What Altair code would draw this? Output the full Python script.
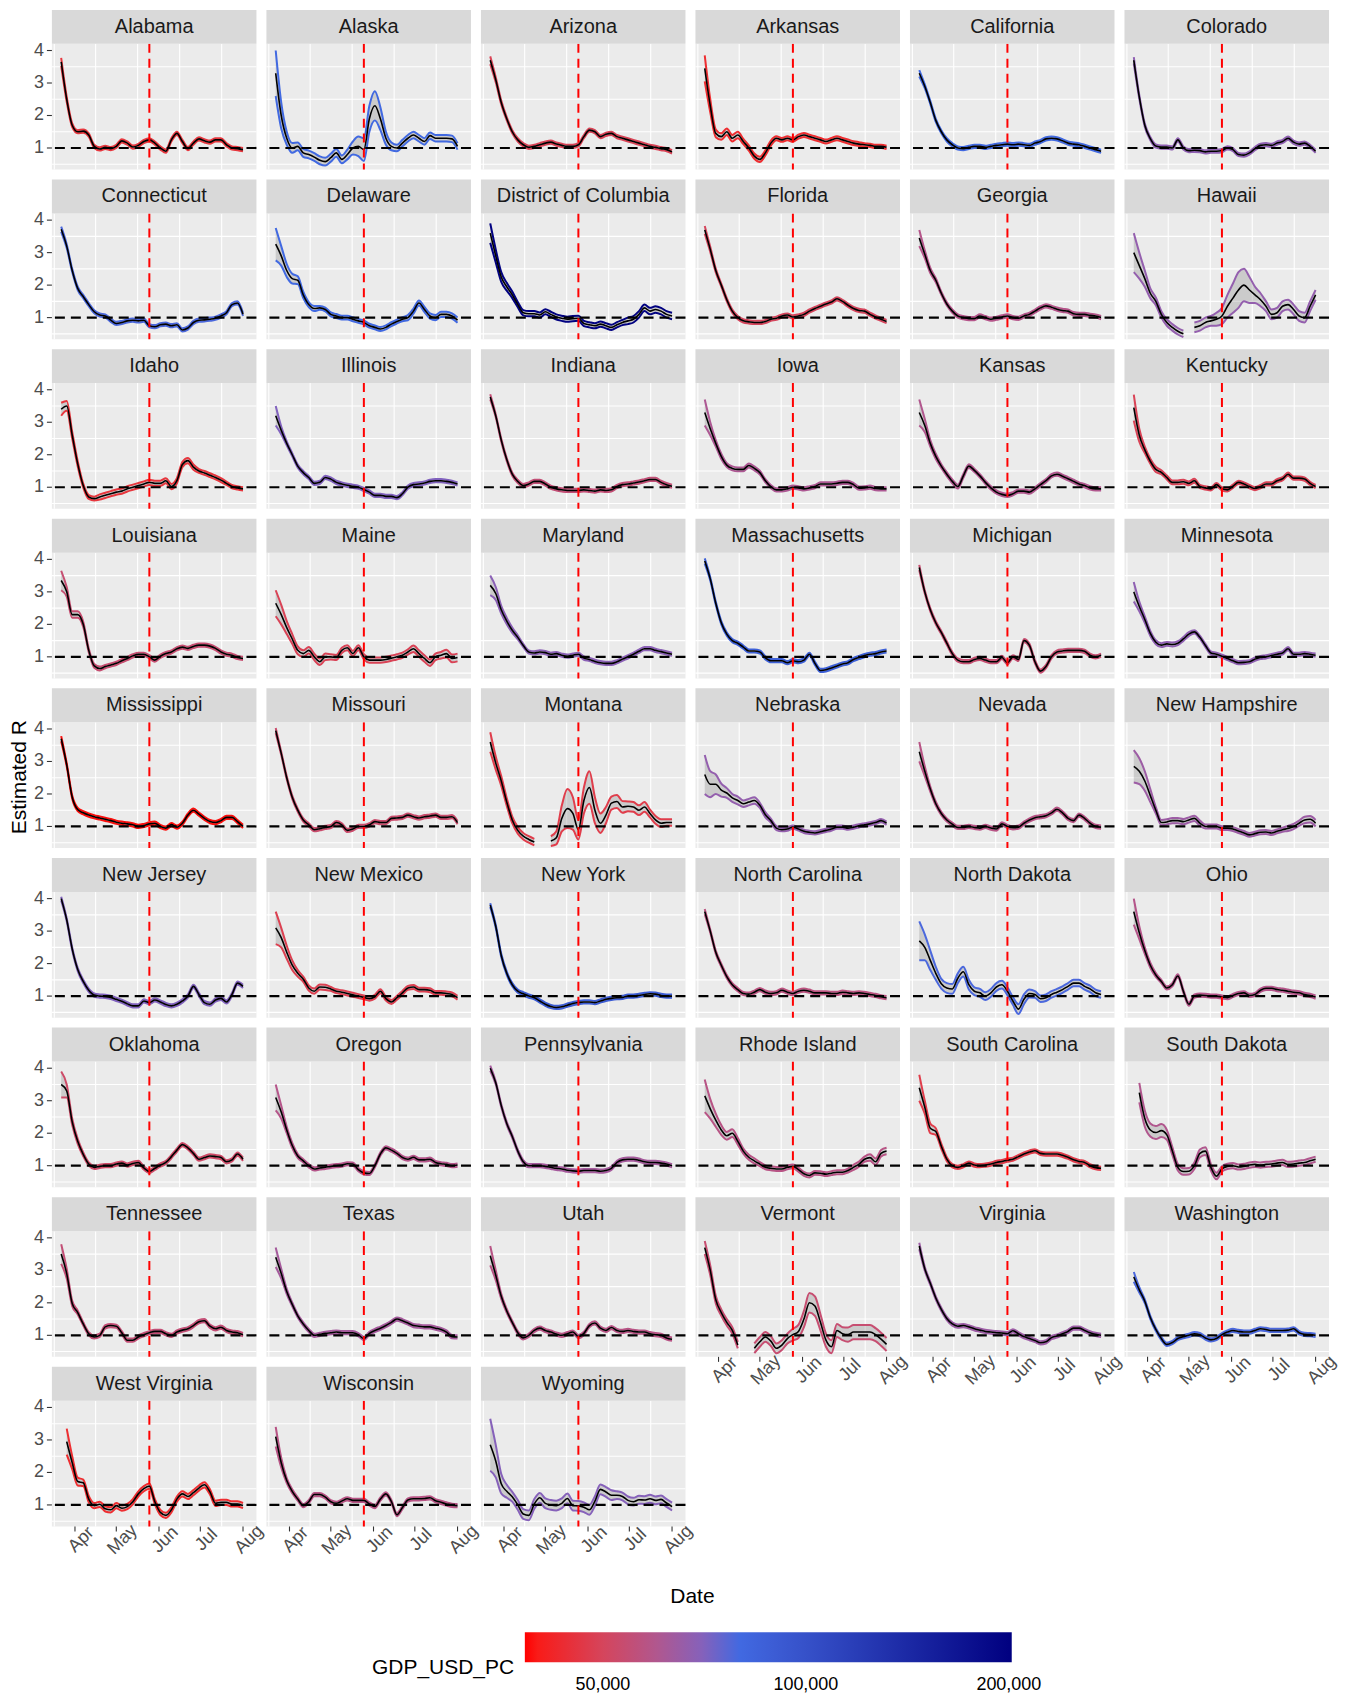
import altair as alt
import pandas as pd

# ---------------- data ----------------
DATES = ["2020-03-22", "2020-03-26", "2020-03-30", "2020-04-03", "2020-04-07", "2020-04-11",
         "2020-04-15", "2020-04-19", "2020-04-23", "2020-04-27", "2020-05-01", "2020-05-05",
         "2020-05-09", "2020-05-13", "2020-05-17", "2020-05-21", "2020-05-25", "2020-05-29",
         "2020-06-02", "2020-06-06", "2020-06-10", "2020-06-14", "2020-06-18", "2020-06-22",
         "2020-06-26", "2020-06-30", "2020-07-04", "2020-07-08", "2020-07-12", "2020-07-16",
         "2020-07-20", "2020-07-24", "2020-07-28", "2020-08-01"]
MONTH_TICKS = ["2020-04-01", "2020-05-01", "2020-06-01", "2020-07-01", "2020-08-01"]
MONTH_LABELS = ["Apr", "May", "Jun", "Jul", "Aug"]
POLICY_DATE = "2020-05-25"
X_LIMITS = [75.25, 223.75]      # day of year 2020
Y_LIMITS = [0.337, 4.206]
Y_MAJOR = [1, 2, 3, 4]
Y_LABELS = ["1", "2", "3", "4"]
Y_MINOR = [0.5, 1.5, 2.5, 3.5]
LEGEND_TITLE = "GDP_USD_PC"
LEGEND_BREAKS = [50000, 100000, 200000]
COLOR_STOPS = [38300, 80000, 202000]
COLOR_RANGE = ["#ff0000", "#4169e1", "#000080"]

GDP = {
    "Alabama": 45000, "Alaska": 80000, "Arizona": 49000, "Arkansas": 43000, "California": 80000,
    "Colorado": 68000, "Connecticut": 79000, "Delaware": 80000, "District of Columbia": 200000,
    "Florida": 50000, "Georgia": 59000, "Hawaii": 67000, "Idaho": 45000, "Illinois": 71000,
    "Indiana": 55000, "Iowa": 61000, "Kansas": 60000, "Kentucky": 49000, "Louisiana": 54000,
    "Maine": 49000, "Maryland": 69000, "Massachusetts": 87000, "Michigan": 54000,
    "Minnesota": 68000, "Mississippi": 39000, "Missouri": 53000, "Montana": 47000,
    "Nebraska": 67000, "Nevada": 58000, "New Hampshire": 65000, "New Jersey": 71000,
    "New Mexico": 48000, "New York": 90000, "North Carolina": 57000, "North Dakota": 79000,
    "Ohio": 59000, "Oklahoma": 52000, "Oregon": 59000, "Pennsylvania": 63000,
    "Rhode Island": 58000, "South Carolina": 47000, "South Dakota": 60000, "Tennessee": 55000,
    "Texas": 63000, "Utah": 58000, "Vermont": 54000, "Virginia": 65000, "Washington": 79000,
    "West Virginia": 43000, "Wisconsin": 58000, "Wyoming": 70000,
}

R = {
    "Alabama": [3.65, 2.5, 1.7, 1.5, 1.52, 1.4, 1.05, 0.97, 1.02, 0.98, 1.05, 1.22, 1.15, 1.03, 1.08, 1.2, 1.25, 1.15, 1.0, 0.9, 1.25, 1.45, 1.2, 0.98, 1.15, 1.28, 1.22, 1.18, 1.25, 1.25, 1.1, 1.0, 0.98, 0.95],
    "Alaska": [3.3, 2.0, 1.3, 1.0, 1.05, 0.85, 0.8, 0.72, 0.62, 0.58, 0.7, 0.85, 0.65, 0.8, 1.0, 1.05, 0.95, 1.9, 2.3, 1.9, 1.3, 1.05, 1.0, 1.15, 1.3, 1.4, 1.3, 1.2, 1.38, 1.3, 1.3, 1.3, 1.28, 1.05],
    "Arizona": [3.7, 3.1, 2.4, 1.9, 1.5, 1.25, 1.1, 1.02, 1.05, 1.1, 1.15, 1.18, 1.12, 1.08, 1.05, 1.05, 1.1, 1.35, 1.55, 1.5, 1.35, 1.42, 1.45, 1.35, 1.3, 1.25, 1.2, 1.15, 1.1, 1.05, 1.02, 0.98, 0.95, 0.88],
    "Arkansas": [3.45, 2.3, 1.45, 1.35, 1.5, 1.3, 1.4, 1.2, 1.0, 0.75, 0.65, 0.85, 1.15, 1.3, 1.25, 1.3, 1.25, 1.35, 1.4, 1.35, 1.3, 1.25, 1.2, 1.25, 1.3, 1.25, 1.2, 1.15, 1.12, 1.1, 1.08, 1.05, 1.05, 1.02],
    "California": [3.3, 2.9, 2.4, 1.85, 1.5, 1.25, 1.1, 1.0, 0.98, 1.02, 1.05, 1.05, 1.02, 1.05, 1.08, 1.1, 1.12, 1.1, 1.12, 1.1, 1.08, 1.15, 1.2, 1.28, 1.3, 1.28, 1.22, 1.15, 1.12, 1.1, 1.05, 1.0, 0.95, 0.9],
    "Colorado": [3.7, 2.57, 1.7, 1.29, 1.06, 1.03, 1.03, 1.0, 1.25, 1.0, 0.92, 0.93, 0.92, 0.88, 0.9, 0.9, 0.92, 1.0, 0.95, 0.8, 0.78, 0.85, 0.98, 1.08, 1.1, 1.08, 1.15, 1.2, 1.3, 1.18, 1.12, 1.15, 1.05, 0.9],
    "Connecticut": [3.72, 3.2, 2.45, 1.9, 1.65, 1.4, 1.18, 1.08, 1.05, 0.92, 0.82, 0.85, 0.9, 0.92, 0.9, 0.92, 0.75, 0.72, 0.78, 0.8, 0.75, 0.78, 0.62, 0.68, 0.85, 0.92, 0.93, 0.95, 0.98, 1.05, 1.15, 1.4, 1.45, 1.1],
    "Delaware": [3.26, 2.9, 2.45, 2.2, 2.15, 1.7, 1.4, 1.28, 1.3, 1.25, 1.1, 1.05, 1.0, 1.0, 0.95, 0.9, 0.85, 0.75, 0.7, 0.65, 0.7, 0.8, 0.88, 0.95, 1.0, 1.2, 1.45, 1.25, 1.05, 1.0, 1.1, 1.1, 1.05, 0.92],
    "District of Columbia": [3.6, 2.9, 2.25, 1.95, 1.7, 1.4, 1.15, 1.12, 1.12, 1.08, 1.18, 1.1, 1.02, 0.98, 0.95, 0.97, 0.98, 0.82, 0.78, 0.75, 0.8, 0.75, 0.7, 0.78, 0.85, 0.9, 0.95, 1.1, 1.3, 1.2, 1.25, 1.2, 1.1, 1.05],
    "Florida": [3.7, 3.1, 2.45, 2.0, 1.55, 1.2, 1.0, 0.9, 0.87, 0.85, 0.85, 0.88, 0.95, 0.98, 1.05, 1.08, 1.02, 1.05, 1.1, 1.2, 1.28, 1.35, 1.42, 1.48, 1.58, 1.5, 1.38, 1.28, 1.22, 1.2, 1.1, 1.02, 0.95, 0.88],
    "Georgia": [3.45, 2.95, 2.45, 2.15, 1.75, 1.42, 1.2, 1.05, 1.0, 0.97, 0.97, 1.05, 1.0, 0.95, 0.98, 1.02, 1.05, 1.0, 0.98, 1.05, 1.1, 1.2, 1.3, 1.36, 1.32, 1.26, 1.22, 1.2, 1.12, 1.1, 1.1, 1.07, 1.05, 1.0],
    "Hawaii": [3.0, 2.6, 2.2, 1.75, 1.5, 1.1, 0.85, 0.7, 0.58, 0.5, None, 0.7, 0.75, 0.85, 0.9, 0.95, 1.05, 1.35, 1.6, 1.85, 2.0, 1.85, 1.7, 1.55, 1.35, 1.1, 1.15, 1.35, 1.4, 1.25, 1.05, 1.0, 1.35, 1.7],
    "Idaho": [3.4, 3.5, 2.6, 1.72, 1.05, 0.7, 0.65, 0.7, 0.75, 0.8, 0.85, 0.88, 0.95, 1.0, 1.05, 1.1, 1.15, 1.12, 1.12, 1.2, 1.02, 1.2, 1.7, 1.82, 1.62, 1.5, 1.44, 1.37, 1.3, 1.22, 1.12, 1.02, 0.98, 0.95],
    "Illinois": [3.2, 2.75, 2.35, 2.0, 1.65, 1.45, 1.3, 1.12, 1.15, 1.3, 1.25, 1.15, 1.1, 1.06, 1.03, 1.0, 0.93, 0.85, 0.75, 0.75, 0.72, 0.72, 0.68, 0.8, 1.0, 1.08, 1.1, 1.13, 1.18, 1.2, 1.2, 1.18, 1.15, 1.1],
    "Indiana": [3.78, 3.2, 2.45, 1.85, 1.4, 1.18, 1.05, 1.1, 1.18, 1.18, 1.1, 1.0, 0.95, 0.92, 0.9, 0.9, 0.9, 0.92, 0.9, 0.88, 0.92, 0.9, 0.92, 1.02, 1.08, 1.1, 1.13, 1.16, 1.2, 1.24, 1.24, 1.15, 1.08, 1.03],
    "Iowa": [3.3, 2.8, 2.35, 1.95, 1.68, 1.58, 1.55, 1.55, 1.67, 1.58, 1.45, 1.2, 1.02, 0.92, 0.92, 0.95, 1.0, 0.98, 0.95, 0.98, 1.02, 1.1, 1.1, 1.1, 1.12, 1.15, 1.15, 1.08, 0.97, 0.98, 1.0, 0.96, 0.95, 0.95],
    "Kansas": [3.3, 2.9, 2.35, 1.95, 1.65, 1.4, 1.18, 1.02, 1.35, 1.65, 1.52, 1.35, 1.15, 0.98, 0.85, 0.78, 0.75, 0.8, 0.88, 0.88, 0.85, 0.95, 1.08, 1.2, 1.35, 1.4, 1.34, 1.26, 1.18, 1.1, 1.05, 0.98, 0.95, 0.95],
    "Kentucky": [3.45, 2.6, 2.15, 1.8, 1.55, 1.46, 1.3, 1.15, 1.15, 1.17, 1.12, 1.2, 1.02, 0.98, 0.95, 1.08, 0.95, 0.92, 1.03, 1.15, 1.1, 1.02, 0.96, 1.02, 1.1, 1.1, 1.2, 1.26, 1.4, 1.28, 1.28, 1.25, 1.12, 1.02],
    "Louisiana": [3.35, 3.0, 2.3, 2.3, 2.0, 1.2, 0.72, 0.64, 0.7, 0.75, 0.8, 0.88, 0.95, 1.03, 1.08, 1.08, 1.0, 0.9, 1.02, 1.1, 1.15, 1.25, 1.3, 1.26, 1.32, 1.36, 1.36, 1.33, 1.26, 1.15, 1.08, 1.05, 0.98, 0.95],
    "Maine": [2.65, 2.3, 1.9, 1.55, 1.2, 1.1, 1.2, 1.0, 0.85, 1.0, 1.0, 0.98, 1.2, 1.28, 1.1, 1.28, 1.0, 0.9, 0.9, 0.9, 0.92, 0.96, 1.0, 1.05, 1.15, 1.25, 1.1, 0.95, 0.82, 1.0, 1.05, 1.1, 0.95, 0.98],
    "Maryland": [3.2, 2.95, 2.45, 2.1, 1.82, 1.6, 1.35, 1.15, 1.12, 1.15, 1.13, 1.08, 1.1, 1.05, 1.02, 1.05, 1.08, 0.96, 0.92, 0.86, 0.82, 0.8, 0.8, 0.85, 0.93, 1.0, 1.08, 1.17, 1.25, 1.25, 1.2, 1.16, 1.12, 1.08],
    "Massachusetts": [3.95, 3.4, 2.65, 2.05, 1.7, 1.5, 1.42, 1.3, 1.18, 1.18, 1.15, 0.97, 0.88, 0.88, 0.88, 0.82, 0.88, 0.85, 0.9, 1.08, 0.8, 0.58, 0.6, 0.66, 0.72, 0.78, 0.82, 0.92, 0.98, 1.04, 1.08, 1.1, 1.15, 1.18],
    "Michigan": [3.75, 3.0, 2.45, 2.05, 1.75, 1.42, 1.1, 0.9, 0.85, 0.85, 0.92, 0.95, 0.9, 0.85, 0.85, 0.98, 0.82, 1.0, 0.92, 1.5, 1.35, 0.85, 0.56, 0.7, 1.0, 1.15, 1.18, 1.2, 1.2, 1.2, 1.17, 1.05, 1.0, 1.05],
    "Minnesota": [3.0, 2.55, 2.15, 1.72, 1.45, 1.36, 1.4, 1.38, 1.42, 1.55, 1.7, 1.77, 1.6, 1.35, 1.12, 1.08, 1.02, 0.95, 0.88, 0.82, 0.83, 0.85, 0.93, 0.98, 1.0, 1.04, 1.08, 1.12, 1.25, 1.08, 1.08, 1.1, 1.08, 1.05],
    "Mississippi": [3.7, 2.9, 1.9, 1.52, 1.42, 1.35, 1.3, 1.26, 1.22, 1.18, 1.13, 1.1, 1.08, 1.05, 1.0, 1.03, 1.08, 1.1, 1.0, 0.95, 1.06, 0.98, 1.1, 1.35, 1.5, 1.38, 1.25, 1.15, 1.12, 1.18, 1.28, 1.28, 1.15, 1.0],
    "Missouri": [3.95, 3.25, 2.5, 1.9, 1.5, 1.2, 1.05, 0.9, 0.93, 0.97, 1.0, 1.12, 1.05, 0.88, 0.92, 1.0, 1.0, 1.05, 1.15, 1.12, 1.12, 1.25, 1.26, 1.28, 1.35, 1.3, 1.26, 1.3, 1.32, 1.35, 1.28, 1.28, 1.3, 1.12],
    "Montana": [3.6, 2.95, 2.4, 1.75, 1.2, 0.88, 0.7, 0.6, 0.52, None, None, 0.55, 0.65, 1.25, 1.55, 1.4, 0.9, 1.8, 2.2, 1.5, 1.1, 1.35, 1.72, 1.77, 1.6, 1.62, 1.6, 1.5, 1.6, 1.4, 1.2, 1.1, 1.12, 1.12],
    "Nebraska": [2.6, 2.3, 2.3, 2.12, 2.03, 1.88, 1.8, 1.7, 1.75, 1.8, 1.65, 1.36, 1.18, 0.95, 0.9, 0.92, 0.98, 0.92, 0.85, 0.82, 0.8, 0.84, 0.88, 0.92, 0.98, 0.98, 0.95, 0.98, 1.02, 1.05, 1.08, 1.12, 1.18, 1.1],
    "Nevada": [3.3, 2.7, 2.15, 1.7, 1.4, 1.2, 1.07, 0.97, 0.97, 1.0, 0.97, 0.95, 1.0, 0.95, 0.92, 1.08, 1.0, 0.96, 0.98, 1.1, 1.2, 1.27, 1.3, 1.33, 1.42, 1.53, 1.42, 1.25, 1.18, 1.35, 1.25, 1.1, 1.0, 0.98],
    "New Hampshire": [2.85, 2.7, 2.4, 1.95, 1.5, 1.12, 1.14, 1.18, 1.18, 1.15, 1.2, 1.25, 1.1, 1.0, 1.0, 1.0, 0.95, 0.95, 0.92, 0.86, 0.8, 0.74, 0.78, 0.82, 0.83, 0.8, 0.85, 0.9, 0.94, 1.0, 1.1, 1.2, 1.22, 1.1],
    "New Jersey": [4.0, 3.35, 2.45, 1.82, 1.45, 1.18, 1.03, 1.0, 0.99, 0.96, 0.9, 0.84, 0.76, 0.7, 0.7, 0.85, 0.8, 0.88, 0.82, 0.74, 0.7, 0.75, 0.85, 1.0, 1.3, 1.05, 0.8, 0.75, 0.88, 0.93, 0.82, 1.05, 1.4, 1.3],
    "New Mexico": [3.1, 2.8, 2.35, 1.95, 1.7, 1.52, 1.25, 1.15, 1.28, 1.27, 1.22, 1.15, 1.12, 1.08, 1.04, 1.0, 0.96, 0.92, 0.98, 1.15, 0.92, 0.82, 0.95, 1.1, 1.25, 1.28, 1.2, 1.2, 1.18, 1.1, 1.1, 1.08, 1.05, 0.95],
    "New York": [3.8, 3.15, 2.25, 1.7, 1.35, 1.15, 1.07, 1.0, 0.95, 0.85, 0.75, 0.68, 0.65, 0.67, 0.72, 0.77, 0.8, 0.82, 0.82, 0.8, 0.85, 0.9, 0.93, 0.95, 0.96, 1.0, 1.0, 1.02, 1.05, 1.07, 1.06, 1.02, 1.0, 1.0],
    "North Carolina": [3.6, 3.0, 2.35, 1.95, 1.6, 1.35, 1.2, 1.08, 1.06, 1.12, 1.2, 1.12, 1.08, 1.1, 1.18, 1.12, 1.08, 1.15, 1.18, 1.15, 1.1, 1.1, 1.1, 1.08, 1.08, 1.12, 1.1, 1.08, 1.1, 1.08, 1.05, 1.02, 0.98, 0.95],
    "North Dakota": [2.7, 2.5, 2.1, 1.7, 1.38, 1.25, 1.22, 1.55, 1.75, 1.35, 1.15, 1.1, 1.0, 1.1, 1.28, 1.35, 1.15, 0.85, 0.6, 0.9, 1.08, 1.05, 0.92, 0.95, 1.05, 1.12, 1.2, 1.3, 1.4, 1.4, 1.3, 1.22, 1.1, 1.05],
    "Ohio": [3.6, 2.95, 2.4, 1.95, 1.65, 1.45, 1.25, 1.35, 1.62, 1.15, 0.75, 1.0, 1.03, 1.02, 1.0, 1.0, 0.97, 0.95, 1.02, 1.08, 1.1, 1.02, 1.05, 1.18, 1.24, 1.24, 1.2, 1.18, 1.15, 1.12, 1.1, 1.05, 1.02, 0.97],
    "Oklahoma": [3.5, 3.3, 2.35, 1.75, 1.35, 1.05, 0.95, 0.98, 1.0, 1.0, 1.05, 1.08, 1.02, 1.07, 1.1, 0.93, 0.82, 0.92, 1.02, 1.1, 1.28, 1.48, 1.65, 1.55, 1.38, 1.2, 1.25, 1.3, 1.28, 1.25, 1.12, 1.18, 1.36, 1.2],
    "Oregon": [3.1, 2.65, 2.1, 1.62, 1.3, 1.15, 1.0, 0.9, 0.93, 0.95, 0.98, 1.0, 1.02, 1.06, 1.05, 0.88, 0.78, 0.76, 1.0, 1.36, 1.55, 1.48, 1.38, 1.25, 1.2, 1.26, 1.18, 1.18, 1.2, 1.1, 1.06, 1.04, 1.0, 1.02],
    "Pennsylvania": [4.0, 3.55, 2.85, 2.3, 1.9, 1.45, 1.12, 1.0, 1.0, 1.0, 0.98, 0.95, 0.92, 0.9, 0.86, 0.84, 0.83, 0.85, 0.85, 0.85, 0.83, 0.85, 0.92, 1.1, 1.18, 1.2, 1.2, 1.17, 1.12, 1.1, 1.1, 1.08, 1.05, 1.0],
    "Rhode Island": [3.15, 2.75, 2.4, 2.1, 1.92, 2.0, 1.75, 1.45, 1.26, 1.15, 1.05, 0.95, 0.92, 0.9, 0.9, 0.95, 0.98, 0.88, 0.75, 0.7, 0.78, 0.77, 0.74, 0.77, 0.8, 0.8, 0.85, 0.95, 1.05, 1.2, 1.25, 1.12, 1.38, 1.45],
    "South Carolina": [3.4, 2.8, 2.15, 2.05, 1.6, 1.2, 1.0, 0.95, 1.0, 1.08, 1.02, 1.0, 1.02, 1.05, 1.1, 1.13, 1.17, 1.2, 1.28, 1.36, 1.42, 1.46, 1.38, 1.36, 1.36, 1.36, 1.32, 1.26, 1.18, 1.13, 1.1, 1.0, 0.94, 0.92],
    "South Dakota": [None, 3.25, 2.45, 2.1, 2.02, 2.08, 1.95, 1.45, 0.95, 0.82, 0.83, 1.0, 1.38, 1.45, 0.95, 0.68, 0.9, 0.98, 1.0, 0.96, 0.98, 1.02, 1.04, 1.02, 1.04, 1.05, 1.08, 1.1, 1.04, 1.05, 1.08, 1.1, 1.15, 1.2],
    "Tennessee": [3.5, 2.9, 1.98, 1.7, 1.35, 1.05, 0.95, 1.0, 1.26, 1.3, 1.28, 1.08, 0.85, 0.85, 0.95, 1.02, 1.08, 1.12, 1.12, 1.05, 1.0, 1.1, 1.16, 1.2, 1.3, 1.42, 1.45, 1.28, 1.2, 1.25, 1.15, 1.1, 1.08, 1.02],
    "Texas": [3.4, 2.9, 2.35, 1.95, 1.6, 1.35, 1.15, 1.0, 1.03, 1.06, 1.08, 1.1, 1.08, 1.08, 1.08, 1.02, 0.9, 1.06, 1.15, 1.22, 1.3, 1.4, 1.5, 1.45, 1.38, 1.3, 1.28, 1.26, 1.26, 1.22, 1.18, 1.1, 0.96, 0.95],
    "Utah": [3.45, 2.85, 2.2, 1.75, 1.4, 1.08, 0.92, 1.0, 1.15, 1.22, 1.15, 1.1, 1.04, 1.0, 1.05, 1.1, 0.96, 1.06, 1.3, 1.38, 1.22, 1.15, 1.24, 1.15, 1.12, 1.15, 1.12, 1.1, 1.1, 1.05, 1.02, 1.0, 0.92, 0.88],
    "Vermont": [3.7, 3.0, 2.1, 1.7, 1.4, 1.15, 0.7, None, None, 0.6, 0.8, 0.95, 0.82, 0.6, 0.7, 0.9, 1.02, 1.12, 1.5, 2.0, 1.9, 1.4, 0.85, 0.65, 1.15, 1.05, 1.02, 1.1, 1.1, 1.1, 1.1, 1.02, 0.88, 0.72],
    "Virginia": [3.75, 3.05, 2.6, 2.15, 1.8, 1.52, 1.35, 1.28, 1.3, 1.26, 1.2, 1.16, 1.12, 1.1, 1.08, 1.07, 1.05, 1.14, 1.05, 0.96, 0.9, 0.84, 0.77, 0.8, 0.93, 0.98, 1.05, 1.12, 1.22, 1.22, 1.15, 1.08, 1.03, 1.0],
    "Washington": [2.8, 2.4, 2.05, 1.55, 1.18, 0.9, 0.72, 0.78, 0.9, 0.96, 1.0, 1.05, 1.02, 0.92, 0.86, 0.9, 1.02, 1.1, 1.15, 1.12, 1.1, 1.1, 1.15, 1.2, 1.18, 1.15, 1.15, 1.15, 1.16, 1.2, 1.08, 1.03, 1.02, 1.0],
    "West Virginia": [None, 2.95, 2.3, 1.72, 1.68, 1.18, 0.98, 1.02, 0.88, 0.85, 0.98, 0.9, 0.95, 1.1, 1.34, 1.5, 1.58, 1.1, 0.77, 0.68, 0.85, 1.18, 1.34, 1.26, 1.38, 1.52, 1.62, 1.4, 1.05, 1.08, 1.08, 1.03, 1.03, 0.98],
    "Wisconsin": [3.1, 2.3, 1.75, 1.42, 1.18, 0.98, 1.1, 1.32, 1.32, 1.24, 1.1, 1.05, 1.12, 1.19, 1.14, 1.14, 1.14, 1.03, 0.95, 1.18, 1.34, 1.1, 0.7, 0.92, 1.15, 1.19, 1.19, 1.2, 1.22, 1.13, 1.08, 1.03, 0.99, 0.98],
    "Wyoming": [2.85, 2.35, 1.65, 1.42, 1.25, 1.0, 0.72, 0.68, 1.03, 1.22, 1.05, 1.0, 0.98, 1.05, 1.2, 0.98, 0.97, 0.93, 0.85, 1.12, 1.48, 1.4, 1.3, 1.3, 1.26, 1.14, 1.1, 1.16, 1.15, 1.19, 1.14, 1.17, 1.06, 0.95],
}

# half-width of the credible band, in hundredths of R
BAND = {
    "Alabama": [12, 8, 6, 5, 5, 5, 5, 5, 5, 5, 5, 5, 5, 5, 5, 5, 5, 5, 5, 5, 5, 5, 5, 5, 5, 5, 5, 5, 5, 5, 5, 5, 5, 5],
    "Alaska": [70, 40, 20, 15, 12, 12, 12, 12, 12, 12, 12, 12, 12, 15, 20, 30, 35, 40, 45, 35, 20, 12, 10, 10, 10, 10, 10, 10, 10, 10, 10, 10, 10, 10],
    "Arizona": [12, 8, 6, 5, 5, 5, 5, 5, 5, 5, 5, 5, 5, 5, 5, 5, 5, 5, 5, 5, 5, 5, 5, 5, 5, 5, 5, 5, 5, 5, 5, 5, 5, 5],
    "Arkansas": [40, 20, 12, 10, 10, 10, 10, 8, 8, 8, 8, 8, 8, 6, 6, 6, 6, 6, 6, 6, 6, 6, 6, 6, 6, 6, 6, 6, 6, 5, 5, 5, 5, 5],
    "California": [10, 6, 5, 5, 5, 5, 5, 5, 5, 5, 5, 5, 5, 5, 5, 5, 5, 5, 5, 5, 5, 5, 5, 5, 5, 5, 5, 5, 5, 5, 5, 5, 5, 5],
    "Colorado": [10, 6, 5, 5, 5, 5, 5, 5, 5, 5, 5, 5, 5, 5, 5, 5, 5, 5, 5, 5, 5, 5, 5, 5, 5, 5, 5, 5, 5, 5, 5, 5, 5, 5],
    "Connecticut": [8, 6, 5, 5, 5, 5, 5, 5, 5, 5, 5, 5, 5, 5, 5, 5, 5, 5, 5, 5, 5, 5, 5, 5, 5, 5, 5, 5, 5, 5, 5, 5, 5, 5],
    "Delaware": [50, 30, 20, 15, 12, 10, 8, 8, 6, 6, 6, 6, 6, 6, 6, 6, 6, 6, 6, 6, 6, 6, 6, 6, 8, 8, 8, 8, 8, 8, 8, 8, 8, 8],
    "District of Columbia": [30, 20, 15, 12, 10, 8, 8, 8, 8, 8, 8, 8, 8, 8, 8, 8, 8, 8, 8, 8, 8, 8, 8, 8, 8, 10, 10, 10, 10, 10, 10, 10, 10, 10],
    "Florida": [12, 8, 6, 5, 5, 5, 5, 5, 5, 5, 5, 5, 5, 5, 5, 5, 5, 5, 5, 5, 5, 5, 5, 5, 5, 5, 5, 5, 5, 5, 5, 5, 5, 5],
    "Georgia": [25, 12, 8, 6, 5, 5, 5, 5, 5, 5, 5, 5, 5, 5, 5, 5, 5, 5, 5, 5, 5, 5, 5, 5, 5, 5, 5, 5, 5, 5, 5, 5, 5, 5],
    "Hawaii": [60, 40, 25, 15, 12, 10, 10, 10, 10, 10, None, 15, 15, 15, 15, 20, 25, 35, 45, 55, 50, 40, 25, 20, 15, 15, 15, 15, 15, 15, 15, 15, 15, 15],
    "Idaho": [20, 15, 10, 8, 6, 6, 6, 8, 8, 8, 8, 8, 8, 8, 8, 8, 8, 8, 8, 8, 8, 8, 8, 8, 8, 6, 6, 6, 6, 6, 5, 5, 5, 5],
    "Illinois": [30, 12, 6, 5, 5, 5, 5, 5, 5, 5, 5, 5, 5, 5, 5, 5, 5, 5, 5, 5, 5, 5, 5, 5, 5, 5, 5, 5, 5, 5, 5, 5, 5, 5],
    "Indiana": [8, 5, 5, 5, 5, 5, 5, 5, 5, 5, 5, 5, 5, 5, 5, 5, 5, 5, 5, 5, 5, 5, 5, 5, 5, 5, 5, 5, 5, 5, 5, 5, 5, 5],
    "Iowa": [40, 20, 10, 8, 6, 6, 6, 6, 6, 6, 6, 5, 5, 5, 5, 5, 5, 5, 5, 5, 5, 5, 5, 5, 5, 5, 5, 5, 5, 5, 5, 5, 5, 5],
    "Kansas": [40, 20, 10, 8, 6, 6, 6, 6, 6, 6, 5, 5, 5, 5, 5, 5, 5, 5, 5, 5, 5, 5, 5, 5, 5, 5, 5, 5, 5, 5, 5, 5, 5, 5],
    "Kentucky": [40, 20, 10, 8, 8, 6, 6, 6, 6, 6, 6, 6, 5, 5, 5, 5, 5, 5, 5, 5, 5, 5, 5, 5, 5, 5, 5, 5, 5, 5, 5, 5, 5, 5],
    "Louisiana": [30, 15, 10, 10, 8, 6, 6, 6, 5, 5, 5, 5, 5, 5, 5, 5, 5, 5, 5, 5, 5, 5, 5, 5, 5, 5, 5, 5, 5, 5, 5, 5, 5, 5],
    "Maine": [40, 30, 20, 15, 12, 10, 10, 10, 10, 10, 8, 8, 8, 8, 8, 8, 8, 8, 8, 8, 8, 8, 8, 8, 8, 10, 10, 10, 10, 10, 10, 12, 12, 12],
    "Maryland": [30, 20, 12, 10, 8, 6, 5, 5, 5, 5, 5, 5, 5, 5, 5, 5, 5, 5, 5, 5, 5, 5, 5, 5, 5, 5, 5, 5, 5, 5, 5, 5, 5, 5],
    "Massachusetts": [8, 5, 5, 5, 5, 5, 5, 5, 5, 5, 5, 5, 5, 5, 5, 5, 5, 5, 5, 5, 5, 5, 5, 5, 5, 5, 5, 5, 5, 5, 5, 5, 5, 5],
    "Michigan": [8, 5, 5, 5, 5, 5, 5, 5, 5, 5, 5, 5, 5, 5, 5, 5, 5, 5, 5, 5, 5, 5, 5, 5, 5, 5, 5, 5, 5, 5, 5, 5, 5, 5],
    "Minnesota": [30, 15, 10, 8, 6, 6, 6, 6, 6, 6, 6, 5, 5, 5, 5, 5, 5, 5, 5, 5, 5, 5, 5, 5, 5, 5, 5, 5, 5, 5, 5, 5, 5, 5],
    "Mississippi": [8, 5, 5, 5, 5, 5, 5, 5, 5, 5, 5, 5, 5, 5, 5, 5, 5, 5, 5, 5, 5, 5, 5, 5, 5, 5, 5, 5, 5, 5, 5, 5, 5, 5],
    "Missouri": [8, 5, 5, 5, 5, 5, 5, 5, 5, 5, 5, 5, 5, 5, 5, 5, 5, 5, 5, 5, 5, 5, 5, 5, 5, 5, 5, 5, 5, 5, 5, 5, 5, 5],
    "Montana": [30, 20, 15, 12, 10, 10, 10, 10, 10, None, None, 15, 20, 40, 60, 50, 30, 40, 50, 40, 30, 25, 20, 20, 18, 15, 15, 15, 15, 12, 12, 12, 10, 10],
    "Nebraska": [60, 40, 30, 20, 15, 12, 12, 10, 10, 10, 8, 8, 6, 6, 5, 5, 5, 5, 5, 5, 5, 5, 5, 5, 5, 5, 5, 5, 5, 5, 5, 5, 5, 5],
    "Nevada": [30, 15, 8, 6, 5, 5, 5, 5, 5, 5, 5, 5, 5, 5, 5, 5, 5, 5, 5, 5, 5, 5, 5, 5, 5, 5, 5, 5, 5, 5, 5, 5, 5, 5],
    "New Hampshire": [50, 40, 30, 20, 10, 8, 8, 8, 8, 8, 8, 8, 8, 6, 6, 6, 6, 6, 6, 6, 6, 6, 6, 6, 6, 6, 6, 6, 8, 8, 8, 10, 10, 10],
    "New Jersey": [6, 5, 5, 5, 5, 5, 5, 5, 5, 5, 5, 5, 5, 5, 5, 5, 5, 5, 5, 5, 5, 5, 5, 5, 5, 5, 5, 5, 5, 5, 5, 5, 5, 5],
    "New Mexico": [50, 30, 20, 15, 10, 8, 8, 8, 8, 8, 6, 6, 6, 6, 6, 6, 6, 6, 6, 6, 6, 6, 6, 6, 6, 6, 6, 6, 6, 6, 6, 6, 6, 6],
    "New York": [6, 5, 5, 5, 5, 5, 5, 5, 5, 5, 5, 5, 5, 5, 5, 5, 5, 5, 5, 5, 5, 5, 5, 5, 5, 5, 5, 5, 5, 5, 5, 5, 5, 5],
    "North Carolina": [8, 5, 5, 5, 5, 5, 5, 5, 5, 5, 5, 5, 5, 5, 5, 5, 5, 5, 5, 5, 5, 5, 5, 5, 5, 5, 5, 5, 5, 5, 5, 5, 5, 5],
    "North Dakota": [60, 40, 30, 20, 15, 15, 15, 15, 15, 15, 12, 12, 12, 12, 12, 12, 12, 12, 15, 15, 12, 10, 10, 10, 10, 10, 10, 10, 10, 10, 10, 10, 10, 10],
    "Ohio": [40, 20, 10, 8, 6, 5, 5, 5, 5, 5, 5, 5, 5, 5, 5, 5, 5, 5, 5, 5, 5, 5, 5, 5, 5, 5, 5, 5, 5, 5, 5, 5, 5, 5],
    "Oklahoma": [40, 20, 10, 8, 6, 5, 5, 5, 5, 5, 5, 5, 5, 5, 5, 5, 5, 5, 5, 5, 5, 5, 5, 5, 5, 5, 5, 5, 5, 5, 5, 5, 5, 5],
    "Oregon": [40, 20, 10, 8, 6, 5, 5, 5, 5, 5, 5, 5, 5, 5, 5, 5, 5, 5, 5, 5, 5, 5, 5, 5, 5, 5, 5, 5, 5, 5, 5, 5, 5, 5],
    "Pennsylvania": [8, 5, 5, 5, 5, 5, 5, 5, 5, 5, 5, 5, 5, 5, 5, 5, 5, 5, 5, 5, 5, 5, 5, 5, 5, 5, 5, 5, 5, 5, 5, 5, 5, 5],
    "Rhode Island": [50, 30, 20, 15, 12, 12, 10, 8, 8, 8, 6, 6, 6, 6, 6, 6, 6, 6, 6, 6, 6, 6, 6, 6, 6, 6, 6, 8, 8, 8, 10, 10, 10, 10],
    "South Carolina": [40, 20, 15, 10, 8, 6, 5, 5, 5, 5, 5, 5, 5, 5, 5, 5, 5, 5, 5, 5, 5, 5, 5, 5, 5, 5, 5, 5, 5, 5, 5, 5, 5, 5],
    "South Dakota": [None, 30, 25, 20, 20, 20, 15, 12, 10, 10, 10, 10, 12, 12, 10, 10, 8, 8, 8, 8, 8, 8, 8, 8, 8, 8, 8, 8, 8, 8, 8, 8, 8, 8],
    "Tennessee": [30, 15, 8, 6, 5, 5, 5, 5, 5, 5, 5, 5, 5, 5, 5, 5, 5, 5, 5, 5, 5, 5, 5, 5, 5, 5, 5, 5, 5, 5, 5, 5, 5, 5],
    "Texas": [30, 15, 8, 6, 5, 5, 5, 5, 5, 5, 5, 5, 5, 5, 5, 5, 5, 5, 5, 5, 5, 5, 5, 5, 5, 5, 5, 5, 5, 5, 5, 5, 5, 5],
    "Utah": [30, 15, 8, 6, 5, 5, 5, 5, 5, 5, 5, 5, 5, 5, 5, 5, 5, 5, 5, 5, 5, 5, 5, 5, 5, 5, 5, 5, 5, 5, 5, 5, 5, 5],
    "Vermont": [20, 15, 12, 10, 10, 10, 10, None, None, 15, 15, 15, 15, 15, 15, 15, 18, 20, 25, 30, 30, 25, 20, 20, 20, 20, 22, 22, 22, 22, 22, 20, 20, 20],
    "Virginia": [10, 6, 5, 5, 5, 5, 5, 5, 5, 5, 5, 5, 5, 5, 5, 5, 5, 5, 5, 5, 5, 5, 5, 5, 5, 5, 5, 5, 5, 5, 5, 5, 5, 5],
    "Washington": [15, 8, 6, 5, 5, 5, 5, 5, 5, 5, 5, 5, 5, 5, 5, 5, 5, 5, 5, 5, 5, 5, 5, 5, 5, 5, 5, 5, 5, 5, 5, 5, 5, 5],
    "West Virginia": [None, 40, 20, 12, 10, 10, 8, 8, 8, 8, 8, 8, 8, 8, 8, 8, 8, 8, 8, 8, 8, 8, 8, 8, 8, 8, 8, 8, 8, 8, 8, 8, 8, 8],
    "Wisconsin": [30, 15, 8, 6, 5, 5, 5, 5, 5, 5, 5, 5, 5, 5, 5, 5, 5, 5, 5, 5, 5, 5, 5, 5, 5, 5, 5, 5, 5, 5, 5, 5, 5, 5],
    "Wyoming": [80, 50, 30, 20, 15, 15, 15, 15, 15, 15, 15, 15, 15, 15, 15, 15, 15, 15, 15, 15, 15, 15, 15, 12, 12, 12, 12, 12, 12, 12, 12, 12, 12, 12],
}

# ---------------- build the long table ----------------
def doy(s):
    return int(pd.Timestamp(s).dayofyear)

DAYS = [doy(d) for d in DATES]
STATES = sorted(R)
rows = []
for st in STATES:
    seg = 0
    first = 1
    broke = False
    for d, v, w in zip(DAYS, R[st], BAND[st]):
        if v is None or w is None:
            if not broke:
                seg += 1
                broke = True
            continue
        broke = False
        rows.append({"state": st, "day": d, "r": v, "lo": v - w / 100.0, "hi": v + w / 100.0,
                     "seg": f"{st}-{seg}", "gdp": GDP[st], "first": first})
        first = 0
df = pd.DataFrame(rows)

# ---------------- grid, ticks and tick labels ----------------
major_days = [doy(m) for m in MONTH_TICKS]
minor_days = [major_days[0] - (major_days[1] - major_days[0]) / 2.0] + \
             [(a + b) / 2.0 for a, b in zip(major_days[:-1], major_days[1:])]
xminor_df = pd.DataFrame({"v": minor_days})
yminor_df = pd.DataFrame({"v": Y_MINOR})
xtick_df = pd.DataFrame({"v": major_days, "label": MONTH_LABELS})
ytick_df = pd.DataFrame({"v": Y_MAJOR, "label": Y_LABELS})

x_axis = alt.Axis(values=major_days, title=None, domain=False, labels=False, ticks=False,
                  gridColor="white", gridWidth=2.2)
y_axis = alt.Axis(values=Y_MAJOR, title=None, domain=False, labels=False, ticks=False,
                  gridColor="white", gridWidth=2.2)
x_scale = alt.Scale(domain=X_LIMITS, nice=False, zero=False)
y_scale = alt.Scale(domain=Y_LIMITS, nice=False, zero=False)

color = alt.Color("gdp:Q", title=None,
                  scale=alt.Scale(type="log", domain=COLOR_STOPS, range=COLOR_RANGE, interpolate="lab"),
                  legend=alt.Legend(orient="none", legendX=474, legendY=1592, direction="horizontal",
                                    values=LEGEND_BREAKS, format=",",
                                    labelFontSize=18, labelColor="black", labelOffset=14,
                                    gradientLength=488, gradientThickness=30,
                                    gradientStrokeWidth=0))

W, H, STRIP = 205, 126, 34
NCOL = 6
first = "datum.first == 1"
TICK_GREY, LABEL_GREY = "#333333", "#4D4D4D"


def panel(k, st):
    sub = df[df.state == st]
    show_x = k + NCOL >= len(STATES)
    show_y = k % NCOL == 0
    X = alt.X("day:Q", scale=x_scale, axis=x_axis)
    base = alt.Chart(sub)
    layers = [
        alt.Chart(xminor_df).mark_rule(color="white", strokeWidth=1.1).encode(
            x=alt.X("v:Q", scale=x_scale, axis=None)),
        alt.Chart(yminor_df).mark_rule(color="white", strokeWidth=1.1).encode(
            y=alt.Y("v:Q", scale=y_scale, axis=None)),
        base.mark_area(color="#8a8a8a", opacity=0.32, interpolate="monotone").encode(
            x=X, y=alt.Y("lo:Q", scale=y_scale, axis=y_axis), y2="hi:Q", detail="seg:N"),
        base.mark_line(strokeWidth=2.0, interpolate="monotone").encode(
            x=X, y=alt.Y("lo:Q", scale=y_scale, axis=y_axis), color=color, detail="seg:N"),
        base.mark_line(strokeWidth=2.0, interpolate="monotone").encode(
            x=X, y=alt.Y("hi:Q", scale=y_scale, axis=y_axis), color=color, detail="seg:N"),
        base.mark_line(color="black", strokeWidth=1.6, interpolate="monotone").encode(
            x=X, y=alt.Y("r:Q", scale=y_scale, axis=y_axis), detail="seg:N"),
        base.mark_rule(color="black", strokeDash=[10, 6], strokeWidth=2.2).encode(
            y=alt.datum(1)).transform_filter(first),
        base.mark_rule(color="#ff0000", strokeDash=[9, 6], strokeWidth=2).encode(
            x=alt.datum(doy(POLICY_DATE))).transform_filter(first),
        base.mark_rect(color="#D9D9D9").encode(
            x=alt.value(0), x2=alt.value(W), y=alt.value(-STRIP), y2=alt.value(0)).transform_filter(first),
        base.mark_text(fontSize=20, color="#1A1A1A", baseline="middle", align="center").encode(
            x=alt.value(W / 2), y=alt.value(-STRIP / 2), text="state:N").transform_filter(first),
    ]
    if show_y:
        layers += [
            alt.Chart(ytick_df).mark_rule(color=TICK_GREY, strokeWidth=1.1).encode(
                x=alt.value(-5), x2=alt.value(0), y=alt.Y("v:Q", scale=y_scale, axis=None)),
            alt.Chart(ytick_df).mark_text(align="right", baseline="middle", fontSize=18,
                                          color=LABEL_GREY).encode(
                x=alt.value(-8), y=alt.Y("v:Q", scale=y_scale, axis=None), text="label:N"),
        ]
    if show_x:
        layers += [
            alt.Chart(xtick_df).mark_rule(color=TICK_GREY, strokeWidth=1.1).encode(
                x=alt.X("v:Q", scale=x_scale, axis=None), y=alt.value(H), y2=alt.value(H + 5)),
            alt.Chart(xtick_df).mark_text(angle=315, align="center", baseline="top", fontSize=18,
                                          color=LABEL_GREY).encode(
                x=alt.X("v:Q", scale=x_scale, axis=None), y=alt.value(H + 7), text="label:N"),
        ]
    if st == "Mississippi":
        layers.append(base.mark_text(fontSize=21, color="black", angle=270, baseline="middle",
                                     align="center").encode(
            x=alt.value(-32), y=alt.value(55), text=alt.value("Estimated R")).transform_filter(first))
    if st == "Wisconsin":
        layers.append(base.mark_text(fontSize=21, color="black", baseline="middle",
                                     align="center").encode(
            x=alt.value(177), y=alt.value(268), text=alt.value(LEGEND_TITLE)).transform_filter(first))
    if st == "Wyoming":
        layers.append(base.mark_text(fontSize=21, color="black", baseline="middle",
                                     align="center").encode(
            x=alt.value(212), y=alt.value(197), text=alt.value("Date")).transform_filter(first))
    return alt.layer(*layers).properties(width=W, height=H)


panels = [panel(k, st) for k, st in enumerate(STATES)]

chart = alt.concat(*panels, columns=NCOL, spacing={"row": STRIP + 10, "column": 10},
                   bounds="flush").properties(
    padding={"left": 0, "top": 0, "right": 0, "bottom": 0}
).configure(font="Liberation Sans").configure_view(fill="#EBEBEB", strokeWidth=0)

chart.save("out.html", embed_options={"renderer": "svg", "actions": False})
